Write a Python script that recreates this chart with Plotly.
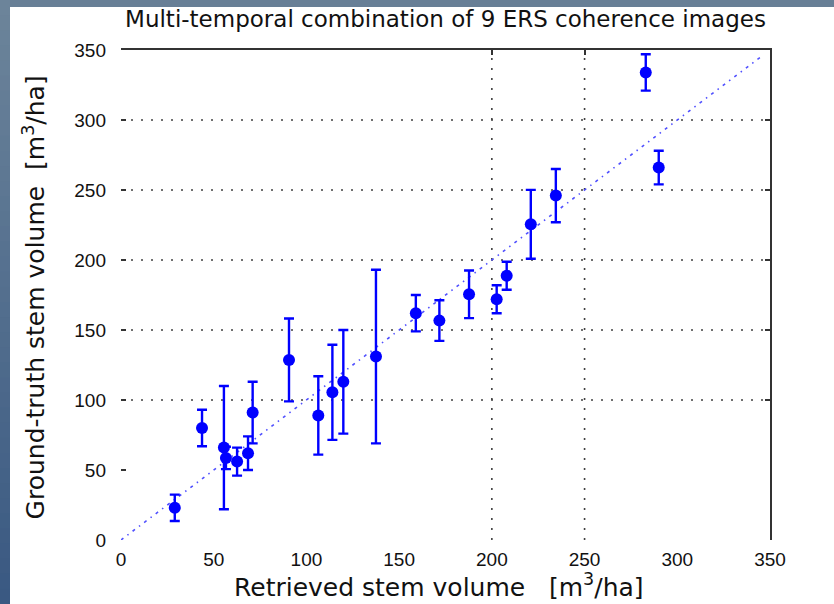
import plotly.graph_objects as go

# Retrieved vs. ground-truth stem volume (m3/ha) with standard deviations
retrieved = [29, 43.7, 55.5, 56.6, 62.6, 68.5, 71, 90.6, 106.4, 114, 119.9,
             137.5, 159, 171.7, 187.7, 202.6, 208, 221, 234.5, 283, 290]
ground_truth = [23, 80, 66, 58.6, 56, 62, 91, 128.6, 89, 105.5, 113,
                131, 162, 156.7, 175.5, 172, 188.8, 225.5, 246, 334, 266]
std_dev = [9.4, 13, 44, 8, 10, 12, 22, 29.6, 28, 34, 37,
           62, 13, 14.5, 17, 10, 10, 24.6, 19, 13, 12]

one_to_one = [0, 345]
axis_ticks = [0, 50, 100, 150, 200, 250, 300, 350]
y_grid = [100, 150, 200, 250, 300]
x_grid = [200, 250]

W, H = 834, 604
L, R, T, B = 121, 64, 50, 64
pw, ph = W - L - R, H - T - B

TEXT_FONT = "DejaVu Sans, Arial, sans-serif"


def px_x(p):
    return (p - L) / pw


def px_y(p):
    return (H - B - p) / ph


fig = go.Figure()

fig.add_trace(go.Scatter(
    x=one_to_one, y=one_to_one, mode="lines",
    line=dict(color="#5050ff", width=1.6, dash="3px,5px,1.5px,5px"),
    hoverinfo="skip", showlegend=False,
))

fig.add_trace(go.Scatter(
    x=retrieved, y=ground_truth, mode="markers",
    marker=dict(color="#0000ff", size=12, symbol="circle"),
    error_y=dict(type="data", array=std_dev, symmetric=True,
                 color="#0000ff", thickness=2.4, width=5),
    showlegend=False,
))

shapes = []
# slide background strips (top band and left gradient band)
shapes.append(dict(type="rect", xref="paper", yref="paper",
                   x0=px_x(0), x1=px_x(W), y0=px_y(7), y1=px_y(0),
                   fillcolor="#687f96", line=dict(width=0), layer="below"))
n = 40
c0 = (108, 132, 154)
c1 = (58, 89, 130)
for i in range(n):
    t = i / (n - 1)
    col = "rgb(%d,%d,%d)" % tuple(round(a + (b - a) * t) for a, b in zip(c0, c1))
    y0 = i * H / n
    y1 = (i + 1) * H / n + 1
    shapes.append(dict(type="rect", xref="paper", yref="paper",
                       x0=px_x(0), x1=px_x(10), y0=px_y(min(y1, H)), y1=px_y(y0),
                       fillcolor=col, line=dict(width=0), layer="below"))

# dotted grid lines
for g in y_grid:
    shapes.append(dict(type="line", xref="x", yref="y", x0=0, x1=350, y0=g, y1=g,
                       line=dict(color="#404040", width=1.6, dash="2px,8px"),
                       layer="below"))
for g in x_grid:
    shapes.append(dict(type="line", xref="x", yref="y", x0=g, x1=g, y0=0, y1=350,
                       line=dict(color="#404040", width=1.6, dash="2px,8px"),
                       layer="below"))

fig.update_layout(
    width=W, height=H,
    margin=dict(l=L, r=R, t=T, b=B),
    paper_bgcolor="white", plot_bgcolor="white",
    font=dict(family="Liberation Sans, Arial, sans-serif", color="#111111"),
    shapes=shapes,
    title=dict(text="Multi-temporal combination of 9 ERS coherence images",
               x=0.5, xref="paper", xanchor="center",
               y=1 - 19 / H, yref="container", yanchor="middle",
               font=dict(family=TEXT_FONT, size=23, color="#111111")),
    xaxis=dict(range=[0, 350], tickvals=axis_ticks, showgrid=False, zeroline=False,
               showline=False, ticks="", tickfont=dict(size=19),
               ticklabelstandoff=6),
    yaxis=dict(range=[0, 350], tickvals=axis_ticks, showgrid=False, zeroline=False,
               showline=False, ticks="inside", ticklen=5, tickwidth=1.5,
               tickcolor="#333333", tickfont=dict(size=19), ticklabelstandoff=14),
    xaxis2=dict(range=[0, 350], overlaying="x", side="top", showline=True,
                linecolor="#333333", linewidth=2, ticks="inside", ticklen=5,
                tickwidth=1.5, tickcolor="#333333", tickvals=x_grid,
                showticklabels=False, showgrid=False, zeroline=False),
    yaxis2=dict(range=[0, 350], overlaying="y", side="right", showline=True,
                linecolor="#333333", linewidth=2, ticks="inside", ticklen=5,
                tickwidth=1.5, tickcolor="#333333", tickvals=y_grid,
                showticklabels=False, showgrid=False, zeroline=False),
    annotations=[
        dict(text="Ground-truth stem volume  [m<sup>3</sup>/ha]",
             xref="paper", yref="paper", x=px_x(34), y=0.495,
             xanchor="center", yanchor="middle", textangle=-90,
             showarrow=False, font=dict(family=TEXT_FONT, size=25, color="#111111")),
        dict(text="Retrieved stem volume   [m<sup>3</sup>/ha]",
             xref="paper", yref="paper", x=px_x(439), y=px_y(585),
             xanchor="center", yanchor="middle",
             showarrow=False, font=dict(family=TEXT_FONT, size=25, color="#111111")),
    ],
)

# invisible trace to activate the framing axes
fig.add_trace(go.Scatter(x=[None], y=[None], xaxis="x2", yaxis="y2",
                         showlegend=False, hoverinfo="skip"))

fig.write_html("out.html")
